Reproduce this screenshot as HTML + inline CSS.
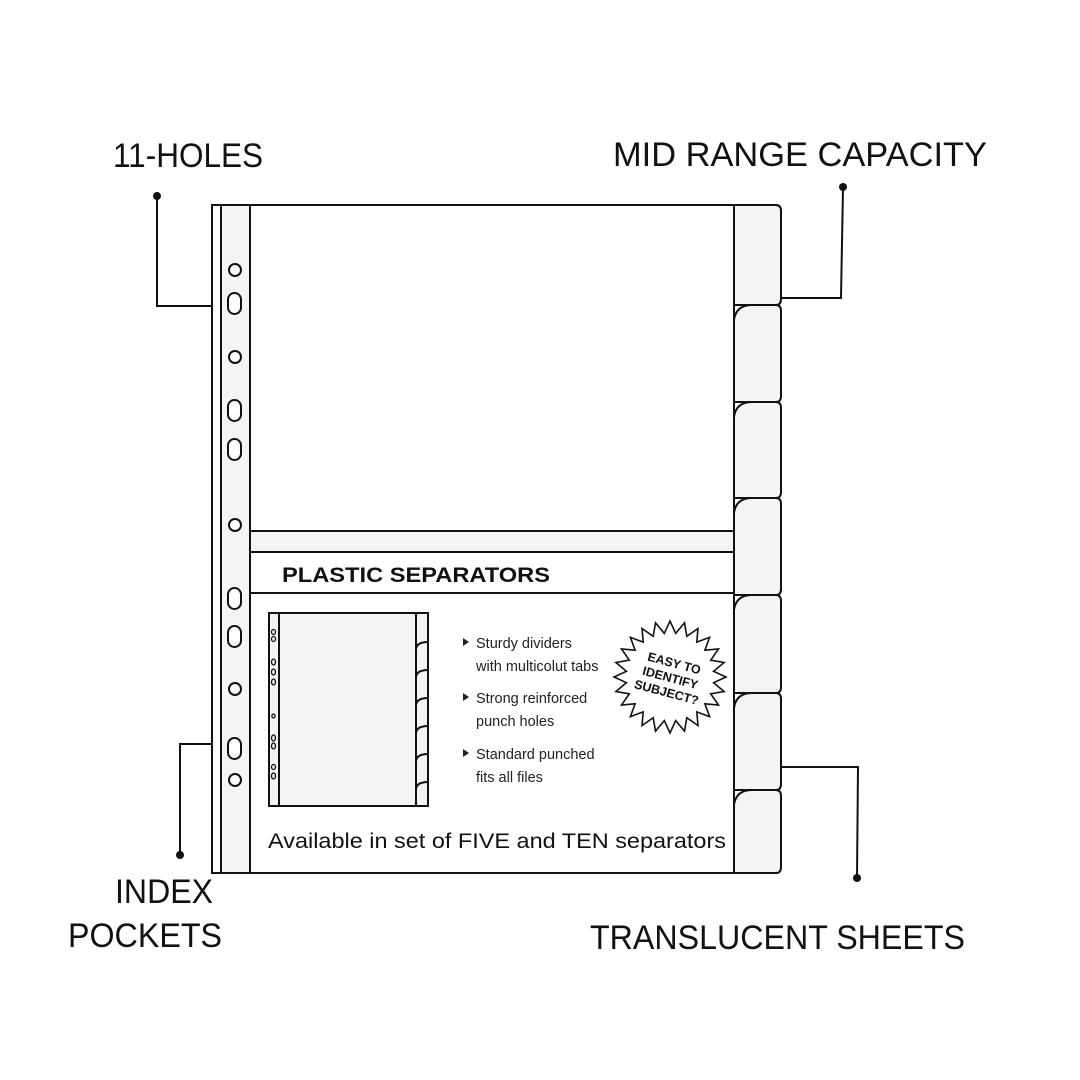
<!DOCTYPE html>
<html><head><meta charset="utf-8"><style>html,body{margin:0;padding:0;background:#fff}svg{display:block}</style></head>
<body>
<svg width="1080" height="1080" viewBox="0 0 1080 1080" xmlns="http://www.w3.org/2000/svg" font-family="Liberation Sans, sans-serif">
<rect width="1080" height="1080" fill="#fff"/>
<g font-size="34" fill="#111">
<text x="113" y="167" textLength="150" lengthAdjust="spacingAndGlyphs">11-HOLES</text>
<text x="613" y="166" textLength="374" lengthAdjust="spacingAndGlyphs">MID RANGE CAPACITY</text>
<text x="115" y="903" textLength="98" lengthAdjust="spacingAndGlyphs">INDEX</text>
<text x="68" y="947" textLength="154" lengthAdjust="spacingAndGlyphs">POCKETS</text>
<text x="590" y="949" textLength="375" lengthAdjust="spacingAndGlyphs">TRANSLUCENT SHEETS</text>
</g>
<g stroke="#111" stroke-width="2" fill="none">
<polyline points="157,196 157,306 212,306"/>
<polyline points="843,187 841,298 782,298"/>
<polyline points="180,855 180,744 212,744"/>
<line x1="250" y1="744" x2="268" y2="744"/>
<polyline points="857,878 858,767 782,767"/>
</g>
<g fill="#111"><circle cx="157" cy="196" r="4"/><circle cx="843" cy="187" r="4"/><circle cx="180" cy="855" r="4"/><circle cx="857" cy="878" r="4"/></g>
<!-- tabs -->
<g stroke="#111" stroke-width="2" fill="#f4f4f4">
<path d="M734,205 H776 Q781,205 781,211 V299 Q781,305 776,305 H734 Z"/>
<path d="M734,320 Q736,305 752,305 H776 Q781,305 781,311 V396 Q781,402 776,402 H734 Z"/>
<path d="M734,417 Q736,402 752,402 H776 Q781,402 781,408 V492 Q781,498 776,498 H734 Z"/>
<path d="M734,513 Q736,498 752,498 H776 Q781,498 781,504 V589 Q781,595 776,595 H734 Z"/>
<path d="M734,610 Q736,595 752,595 H776 Q781,595 781,601 V687 Q781,693 776,693 H734 Z"/>
<path d="M734,708 Q736,693 752,693 H776 Q781,693 781,699 V784 Q781,790 776,790 H734 Z"/>
<path d="M734,805 Q736,790 752,790 H776 Q781,790 781,796 V867 Q781,873 776,873 H734 Z"/>
</g>
<!-- main sheet -->
<rect x="212" y="205" width="522" height="668" fill="#fff" stroke="#111" stroke-width="2"/>
<rect x="221" y="205" width="29" height="668" fill="#f4f4f4" stroke="#111" stroke-width="2"/>
<rect x="250" y="531" width="484" height="21" fill="#f4f4f4" stroke="#111" stroke-width="2"/>
<line x1="250" y1="593" x2="734" y2="593" stroke="#111" stroke-width="2"/>
<g stroke="#111" stroke-width="2" fill="#fff">
<circle cx="235" cy="270" r="6"/><circle cx="235" cy="357" r="6"/><circle cx="235" cy="525" r="6"/><circle cx="235" cy="689" r="6"/><circle cx="235" cy="780" r="6"/>
<rect x="228" y="293" width="13" height="21" rx="6.5"/>
<rect x="228" y="400" width="13" height="21" rx="6.5"/>
<rect x="228" y="439" width="13" height="21" rx="6.5"/>
<rect x="228" y="588" width="13" height="21" rx="6.5"/>
<rect x="228" y="626" width="13" height="21" rx="6.5"/>
<rect x="228" y="738" width="13" height="21" rx="6.5"/>
</g>
<text x="282" y="582" font-size="21" font-weight="bold" fill="#111" textLength="268" lengthAdjust="spacingAndGlyphs">PLASTIC SEPARATORS</text>
<!-- mini image -->
<g stroke="#111" stroke-width="2">
<rect x="269" y="613" width="159" height="193" fill="#f4f4f4"/>
<line x1="279" y1="613" x2="279" y2="806"/>
<line x1="416" y1="613" x2="416" y2="806"/>
<path d="M416,650 Q416,642 428,642 M416,678 Q416,670 428,670 M416,706 Q416,698 428,698 M416,734 Q416,726 428,726 M416,762 Q416,754 428,754 M416,790 Q416,782 428,782" fill="none"/>
</g>
<g stroke="#111" stroke-width="1.3" fill="none">
<ellipse cx="273.5" cy="632" rx="2" ry="2.5"/><ellipse cx="273.5" cy="639" rx="2" ry="2.5"/>
<ellipse cx="273.5" cy="662" rx="2" ry="3"/><ellipse cx="273.5" cy="672" rx="2" ry="3"/><ellipse cx="273.5" cy="682" rx="2" ry="3"/>
<ellipse cx="273.5" cy="716" rx="1.6" ry="2"/>
<ellipse cx="273.5" cy="738" rx="2" ry="3"/><ellipse cx="273.5" cy="746" rx="2" ry="3"/>
<ellipse cx="273.5" cy="767" rx="2" ry="2.5"/><ellipse cx="273.5" cy="776" rx="2" ry="3"/>
</g>
<g font-size="14.5" fill="#222">
<path d="M463,638 l6,4 l-6,4z M463,693 l6,4 l-6,4z M463,749 l6,4 l-6,4z" fill="#222"/>
<text x="476" y="648">Sturdy dividers</text>
<text x="476" y="671">with multicolut tabs</text>
<text x="476" y="703">Strong reinforced</text>
<text x="476" y="726">punch holes</text>
<text x="476" y="759">Standard punched</text>
<text x="476" y="782">fits all files</text>
</g>
<text x="268" y="848" font-size="21" fill="#111" textLength="458" lengthAdjust="spacingAndGlyphs">Available in set of FIVE and TEN separators</text>
<polygon id="star" fill="#fff" stroke="#111" stroke-width="1.6" points=""/>
<g transform="translate(670,679) rotate(15)" font-size="12.5" font-weight="bold" fill="#111" text-anchor="middle">
<text x="0" y="-12">EASY TO</text>
<text x="0" y="3">IDENTIFY</text>
<text x="0" y="18">SUBJECT?</text>
</g>
</svg>
<script>
(function(){var p=[],n=24,cx=670,cy=677;for(var i=0;i<n*2;i++){var r=i%2?44:56,a=Math.PI*i/n;p.push((cx+r*Math.cos(a)).toFixed(1)+","+(cy+r*Math.sin(a)).toFixed(1));}document.getElementById("star").setAttribute("points",p.join(" "));})();
</script>
</body></html>
